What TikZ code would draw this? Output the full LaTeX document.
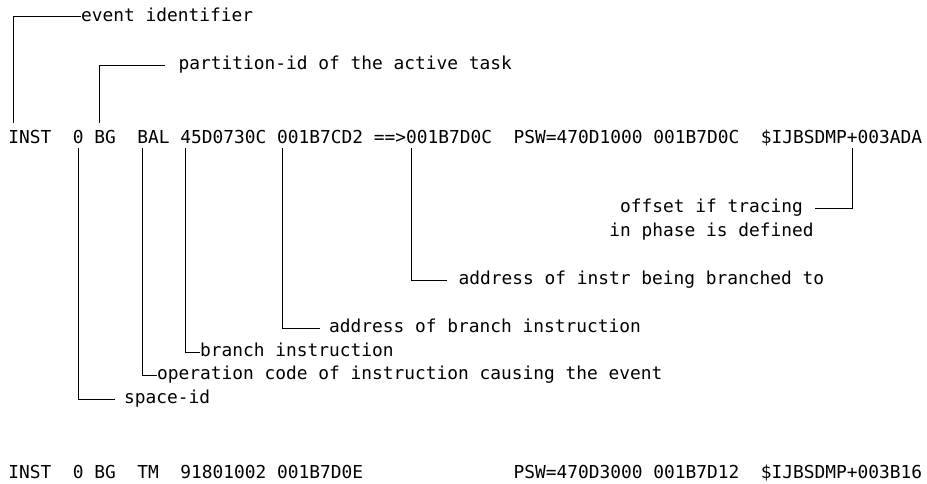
\documentclass[tikz,border=0pt]{standalone}
\usepackage{fontspec}
\newfontfamily\tracemono{DejaVu Sans Mono}
\tikzset{
  x=1pt, y=-1pt,
  every node/.style={inner sep=0pt, outer sep=0pt, text=black,
    font=\tracemono\fontsize{17.86}{23.5}\selectfont},
  field/.style={anchor=base west, text height=20.8pt, text depth=5pt},
  note/.style={anchor=base west, text height=13.5pt, text depth=3.76pt},
  lead/.style={draw=black, line width=0.85pt},
}
\begin{document}
% column c of the trace line starts at 8.3 + c*10.75
\begin{tikzpicture}
\useasboundingbox[fill=white] (0,0) rectangle (927,483);

% traced instruction (annotated)
\node[field] (inst)  at (8.3+0*10.75, 143.3) {INST};
\node[field] (spid)  at (8.3+6*10.75, 143.3) {0};
\node[field] (part)  at (8.3+8*10.75, 143.3) {BG};
\node[field] (opc)   at (8.3+12*10.75, 143.3) {BAL};
\node[field] (instr) at (8.3+16*10.75, 143.3) {45D0730C};
\node[field] (from)  at (8.3+25*10.75, 143.3) {001B7CD2};
\node[field] (arr)   at (8.3+34*10.75, 143.3) {==>};
\node[field] (to)    at (8.3+37*10.75, 143.3) {001B7D0C};
\node[field] (psw)   at (8.3+47*10.75, 143.3) {PSW=470D1000};
\node[field] (pswa)  at (8.3+60*10.75, 143.3) {001B7D0C};
\node[field] (sym)   at (8.3+70*10.75, 143.3) {\$IJBSDMP+003ADA};

% explanations
\node[note] (lEvt)  at (81, 21.6)    {event identifier};
\node[note] (lPart) at (178.5, 69.9) {partition-id of the active task};
\node[note] (lOff)  at (620, 212.9)  {offset if tracing};
\node[note] (lPh)   at (609.3, 236.4) {in phase is defined};
\node[note] (lTo)   at (458.5, 284.9) {address of instr being branched to};
\node[note] (lFrom) at (329, 332.9)  {address of branch instruction};
\node[note] (lIns)  at (200, 356.9)  {branch instruction};
\node[note] (lOpc)  at (157, 379.9)  {operation code of instruction causing the event};
\node[note] (lSp)   at (124, 403.9)  {space-id};

% leader lines
\draw[lead] ([xshift=5.375pt]inst.north west) |- (lEvt.west);
\draw[lead] ([xshift=5.375pt]part.north west) |- ([xshift=-13.5pt]lPart.west);
\draw[lead] ([xshift=91.375pt]sym.south west) |- ([xshift=12pt]lOff.east);
\draw[lead] ([xshift=5.375pt]to.south west)   |- ([xshift=-11.5pt]lTo.west);
\draw[lead] ([xshift=5.375pt]from.south west) |- ([xshift=-9pt]lFrom.west);
\draw[lead] ([xshift=5.375pt]instr.south west) |- (lIns.west);
\draw[lead] ([xshift=5.375pt]opc.south west)  |- (lOpc.west);
\draw[lead] ([xshift=5.375pt]spid.south west) |- ([xshift=-9pt]lSp.west);

% following trace entry
\node[field] (inst2)  at (8.3+0*10.75, 478.3) {INST};
\node[field] (spid2)  at (8.3+6*10.75, 478.3) {0};
\node[field] (part2)  at (8.3+8*10.75, 478.3) {BG};
\node[field] (opc2)   at (8.3+12*10.75, 478.3) {TM};
\node[field] (instr2) at (8.3+16*10.75, 478.3) {91801002};
\node[field] (from2)  at (8.3+25*10.75, 478.3) {001B7D0E};
\node[field] (psw2)   at (8.3+47*10.75, 478.3) {PSW=470D3000};
\node[field] (pswa2)  at (8.3+60*10.75, 478.3) {001B7D12};
\node[field] (sym2)   at (8.3+70*10.75, 478.3) {\$IJBSDMP+003B16};
\end{tikzpicture}
\end{document}
